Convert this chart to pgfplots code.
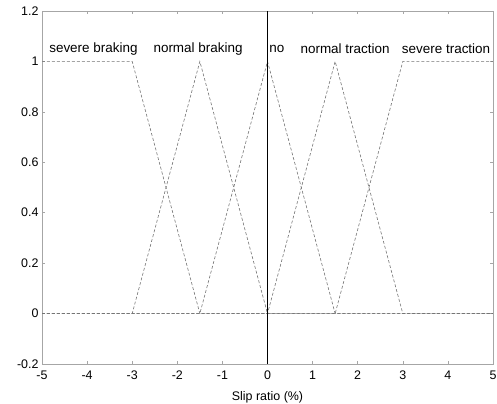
\documentclass[border=0pt]{standalone}
\usepackage{pgfplots}
\pgfplotsset{compat=1.18}
\usepackage{fontspec}
\setmainfont{Liberation Sans}
\begin{document}
\begin{tikzpicture}
\begin{axis}[
  scale only axis,
  width=451bp, height=353bp,
  xmin=-5, xmax=5, ymin=-0.2, ymax=1.2,
  xtick={-5,-4,...,5},
  ytick={-0.2,0,0.2,0.4,0.6,0.8,1,1.2},
  yticklabels={-0.2,0,0.2,0.4,0.6,0.8,1,1.2},
  xticklabels={-5,-4,-3,-2,-1,0,1,2,3,4,5},
  tick align=inside,
  major tick length=3bp,
  tick style={gray!70, line width=0.5pt},
  axis line style={gray!70, line width=0.6pt},
  /pgf/number format/assume math mode=true,
  tick label style={font=\fontsize{12.5}{14}\selectfont},
  xticklabel style={yshift=-3bp},
  xlabel={Slip ratio (\%)},
  xlabel style={font=\fontsize{12.5}{14}\selectfont, yshift=-5bp},
  clip=false,
]
\pgfplotsset{mf/.style={black!55, line width=0.6pt, densely dashed, mark=none}}
\addplot[mf] coordinates {(-5,1) (-3,1) (-1.5,0) (5,0)};
\addplot[mf] coordinates {(-5,0) (-3,0) (-1.5,1) (0,0) (5,0)};
\addplot[mf] coordinates {(-5,0) (-1.5,0) (0,1) (1.5,0) (5,0)};
\addplot[mf] coordinates {(-5,0) (0,0) (1.5,1) (3,0) (5,0)};
\addplot[mf] coordinates {(-5,0) (1.5,0) (3,1) (5,1)};
\addplot[black, solid, line width=0.8pt, mark=none] coordinates {(0,-0.2) (0,1.2)};
\node[font=\fontsize{13.5}{15}\selectfont] at (axis cs:-3.86,1.05) {severe braking};
\node[font=\fontsize{13.5}{15}\selectfont] at (axis cs:-1.54,1.05) {normal braking};
\node[font=\fontsize{13.5}{15}\selectfont] at (axis cs:0.21,1.05) {no};
\node[font=\fontsize{13.5}{15}\selectfont] at (axis cs:1.72,1.05) {normal traction};
\node[font=\fontsize{13.5}{15}\selectfont] at (axis cs:3.96,1.05) {severe traction};
\end{axis}
\pgfresetboundingbox
\path[use as bounding box] (-42bp,-40bp) rectangle (455bp,364bp);
\end{tikzpicture}
\end{document}
